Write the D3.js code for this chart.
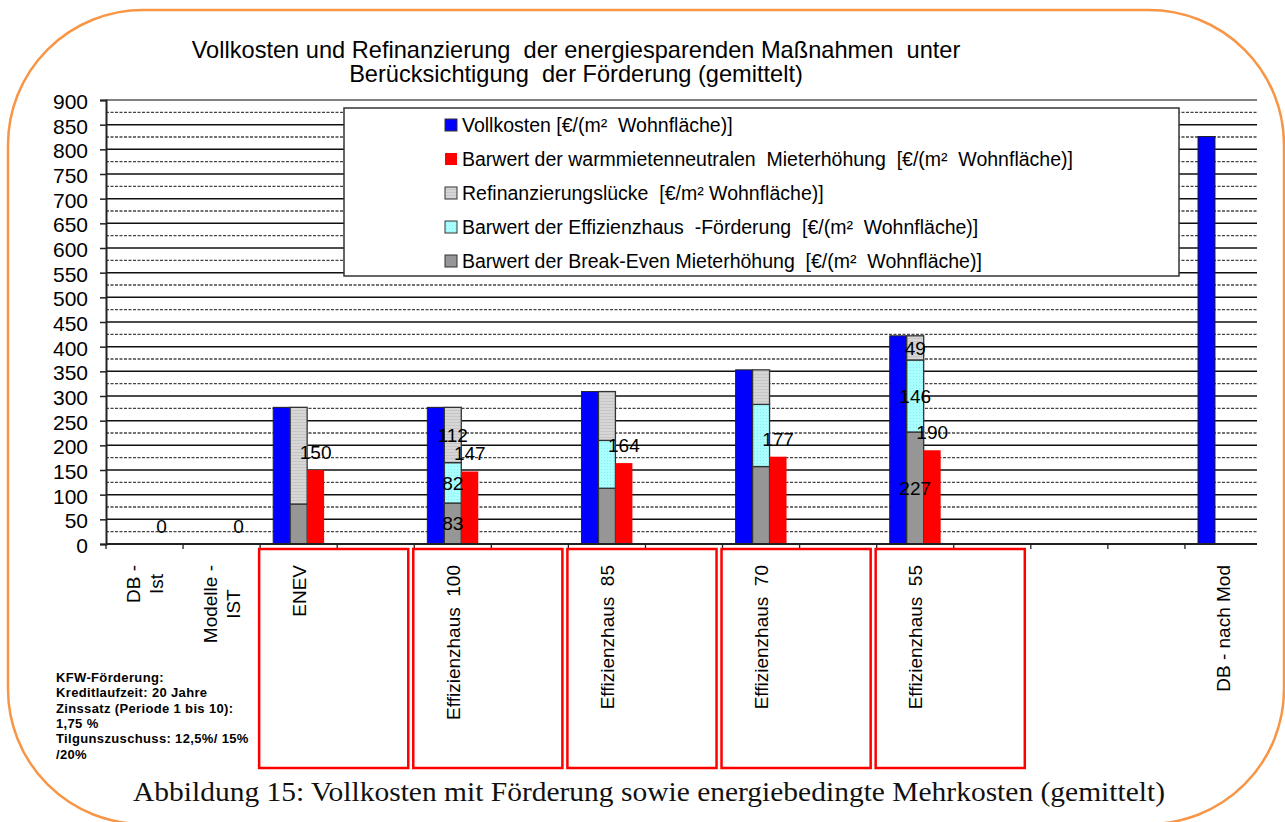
<!DOCTYPE html>
<html><head><meta charset="utf-8">
<script src="https://cdn.jsdelivr.net/npm/d3@7"></script>
<style>
html,body{margin:0;padding:0;background:#fff;}
text{white-space:pre;}
</style></head>
<body>
<svg id="chart" width="1285" height="822"></svg>
<script>
// ---------- data ----------
const xLabels = [["DB -","Ist"],["Modelle -","IST"],["ENEV"],[],["Effizienzhaus  100"],[],["Effizienzhaus  85"],[],["Effizienzhaus  70"],[],["Effizienzhaus  55"],[],[],[],["DB - nach Mod"]];
const vollkosten   = [0, 0, 277, null, 277, null, 309, null, 353, null, 422, null, null, null, 826];
const warmNeutral  = [0, 0, 150, null, 147, null, 164, null, 177, null, 190, null, null, null, null];
const breakEven    = [null, null, 81, null, 83, null, 113, null, 157, null, 227, null, null, null, null];
const foerderung   = [null, null, 0, null, 82, null, 97, null, 126, null, 146, null, null, null, null];
const luecke       = [null, null, 196, null, 112, null, 99, null, 70, null, 49, null, null, null, null];
const stackLabelCats = [4, 10];
const boxedCats = [2, 4, 6, 8, 10];
const yTicks = d3.range(0, 901, 50);
const yMinor = d3.range(25, 900, 50);
const legendItems = [
  {key:"voll", text:"Vollkosten [€/(m²  Wohnfläche)]"},
  {key:"warm", text:"Barwert der warmmietenneutralen  Mieterhöhung  [€/(m²  Wohnfläche)]"},
  {key:"luecke", text:"Refinanzierungslücke  [€/m² Wohnfläche)]"},
  {key:"foerd", text:"Barwert der Effizienzhaus  -Förderung  [€/(m²  Wohnfläche)]"},
  {key:"break", text:"Barwert der Break-Even Mieterhöhung  [€/(m²  Wohnfläche)]"}
];
const titleLines = ["Vollkosten und Refinanzierung  der energiesparenden Maßnahmen  unter","Berücksichtigung  der Förderung (gemittelt)"];
const noteLines = ["KFW-Förderung:","Kreditlaufzeit: 20 Jahre","Zinssatz (Periode 1 bis 10):","1,75 %","Tilgunszuschuss: 12,5%/ 15%","/20%"];
const caption = "Abbildung 15: Vollkosten mit Förderung sowie energiebedingte Mehrkosten (gemittelt)";

// ---------- setup ----------
const svg = d3.select("#chart");
const font = "'Liberation Sans', Arial, sans-serif";
const fills = {voll:"#0000FF", warm:"#FF0000", luecke:"url(#pGray)", foerd:"url(#pCyan)", break:"#969696"};

const defs = svg.append("defs");
const pg = defs.append("pattern").attr("id","pGray").attr("width",4).attr("height",3).attr("patternUnits","userSpaceOnUse");
pg.append("rect").attr("width",4).attr("height",3).attr("fill","#D6D6D6");
pg.append("rect").attr("y",2).attr("width",4).attr("height",1).attr("fill","#C6C6C6");
const pc = defs.append("pattern").attr("id","pCyan").attr("width",3).attr("height",3).attr("patternUnits","userSpaceOnUse");
pc.append("rect").attr("width",3).attr("height",3).attr("fill","#A8FFFF");
pc.append("rect").attr("x",1).attr("y",1).attr("width",1).attr("height",1).attr("fill","#8EEAEA");
defs.append("clipPath").attr("id","plotClip").append("rect").attr("x",100).attr("y",90).attr("width",1157).attr("height",470);

// orange frame
svg.append("rect").attr("x",8).attr("y",10).attr("width",1276).attr("height",814)
  .attr("rx",135).attr("ry",135).attr("fill","#fff").attr("stroke","#F79646").attr("stroke-width",2.5);

const x = d3.scaleBand().domain(d3.range(xLabels.length)).range([106, 1262]).paddingInner(0).paddingOuter(0);
const bw = x.bandwidth();
const xs = d3.scaleBand().domain(["voll","stack","warm"]).range([0, bw]).paddingInner(0).paddingOuter(0.77);
const y = d3.scaleLinear().domain([0, 900]).range([544, 100]);

// title
svg.append("g").selectAll("text").data(titleLines).join("text")
  .attr("x", 576).attr("y",(d,i)=>57.5 + i*24.5).attr("text-anchor","middle")
  .attr("font-family",font).attr("font-size",23.6).attr("fill","#000").text(d=>d);

// gridlines
const grid = svg.append("g").attr("clip-path","url(#plotClip)");
grid.selectAll("line.minor").data(yMinor).join("line").attr("class","minor")
  .attr("x1",106).attr("x2",1257).attr("y1",d=>y(d)).attr("y2",d=>y(d))
  .attr("stroke","#444").attr("stroke-width",1.3).attr("stroke-dasharray","3,1.5");
grid.selectAll("line.major").data(yTicks.filter(d=>d>0)).join("line").attr("class","major")
  .attr("x1",106).attr("x2",1257).attr("y1",d=>y(d)).attr("y2",d=>y(d))
  .attr("stroke",d=>d===900?"#808080":"#111").attr("stroke-width",d=>d===900?2:1.5);

// y axis
const yAxis = d3.axisLeft(y).tickValues(yTicks).tickSize(6).tickPadding(12);
const yg = svg.append("g").attr("transform","translate(106,0)").call(yAxis);
yg.select(".domain").attr("stroke","#222").attr("stroke-width",2);
yg.selectAll(".tick line").attr("stroke","#222").attr("stroke-width",1.5);
yg.selectAll(".tick text").attr("font-family",font).attr("font-size",21).attr("fill","#000").attr("dy","0.4em");

// legend
const lg = svg.append("g");
lg.append("rect").attr("x",344).attr("y",108).attr("width",835).attr("height",168)
  .attr("fill","#fff").attr("stroke","#333").attr("stroke-width",1.5);
const li = lg.selectAll("g.item").data(legendItems).join("g").attr("class","item")
  .attr("transform",(d,i)=>`translate(445,${125 + i*34})`);
li.append("rect").attr("x",0).attr("y",-6).attr("width",12).attr("height",12)
  .attr("fill",d=>fills[d.key]).attr("stroke",d=>d.key==="warm"?"none":"#333").attr("stroke-width",1);
li.append("text").attr("x",17).attr("y",0).attr("dy","0.36em")
  .attr("font-family",font).attr("font-size",19.5).attr("fill","#000").text(d=>d.text);

// bars
const bars = svg.append("g");
const idx = d3.range(xLabels.length);
bars.selectAll("rect.voll").data(idx.filter(i=>vollkosten[i]!==null && vollkosten[i]>0)).join("rect")
  .attr("class","voll").attr("x",i=>x(i)+xs("voll")).attr("width",xs.bandwidth())
  .attr("y",i=>y(vollkosten[i])).attr("height",i=>y(0)-y(vollkosten[i]))
  .attr("fill",fills.voll).attr("stroke","#222").attr("stroke-width",1);

const stackKeys = ["break","foerd","luecke"];
const stackRows = idx.filter(i=>breakEven[i]!==null).map(i=>({i, break:breakEven[i], foerd:foerderung[i], luecke:luecke[i]}));
const stacked = d3.stack().keys(stackKeys)(stackRows);
stacked.forEach(layer=>{
  bars.selectAll(null).data(layer.filter(d=>d[1]-d[0]>0)).join("rect")
    .attr("x",d=>x(d.data.i)+xs("stack")).attr("width",xs.bandwidth())
    .attr("y",d=>y(d[1])).attr("height",d=>y(d[0])-y(d[1]))
    .attr("fill",fills[layer.key]).attr("stroke","#333").attr("stroke-width",1.3);
});

bars.selectAll("rect.warm").data(idx.filter(i=>warmNeutral[i]!==null && warmNeutral[i]>0)).join("rect")
  .attr("class","warm").attr("x",i=>x(i)+xs("warm")).attr("width",xs.bandwidth())
  .attr("y",i=>y(warmNeutral[i])).attr("height",i=>y(0)-y(warmNeutral[i]))
  .attr("fill",fills.warm);

// x axis
svg.append("line").attr("x1",106).attr("x2",1257).attr("y1",y(0)).attr("y2",y(0)).attr("stroke","#222").attr("stroke-width",2);
svg.append("g").selectAll("line").data(d3.range(xLabels.length)).join("line")
  .attr("x1",i=>x(i)).attr("x2",i=>x(i)).attr("y1",y(0)).attr("y2",y(0)+5).attr("stroke","#222").attr("stroke-width",1.3);

// data labels
const labelFont = 19;
const lab = svg.append("g").attr("font-family",font).attr("font-size",labelFont).attr("fill","#000").attr("text-anchor","middle");
lab.selectAll("text.w").data(idx.filter(i=>warmNeutral[i]!==null)).join("text")
  .attr("x",i=>x(i)+xs("warm")+xs.bandwidth()/2).attr("y",i=>y(warmNeutral[i])-18).attr("dy","0.36em")
  .text(i=>warmNeutral[i]);
stacked.forEach(layer=>{
  lab.selectAll(null).data(layer.filter(d=>stackLabelCats.includes(d.data.i))).join("text")
    .attr("x",d=>x(d.data.i)+xs("stack")+xs.bandwidth()/2).attr("y",d=>(y(d[0])+y(d[1]))/2).attr("dy","0.36em")
    .text(d=>d[1]-d[0]);
});

// red boxes around category labels
svg.append("g").selectAll("rect").data(boxedCats).join("rect")
  .attr("x",i=>x(i)-1).attr("y",549).attr("width",bw*2-5).attr("height",219)
  .attr("fill","none").attr("stroke","#FF0000").attr("stroke-width",2.5);

// x labels (rotated)
const xl = svg.append("g");
const lineGap = 23;
xLabels.forEach((lines,i)=>{
  if(!lines.length) return;
  const g = xl.append("g");
  const t = g.append("text").attr("font-family",font).attr("font-size",19).attr("fill","#000").attr("text-anchor","middle");
  lines.forEach((ln,k)=>{
    t.append("tspan").attr("x",0).attr("y",(k-(lines.length-1)/2)*lineGap).attr("dy","0.36em").text(ln);
  });
  let maxLen = 0;
  t.selectAll("tspan").each(function(){ maxLen = Math.max(maxLen, this.getComputedTextLength()); });
  g.attr("transform",`translate(${x(i)+bw/2},${565+maxLen/2}) rotate(-90)`);
});

// footnote
svg.append("g").selectAll("text").data(noteLines).join("text")
  .attr("x",56).attr("y",(d,i)=>682+i*15.3)
  .attr("font-family",font).attr("font-size",13).attr("font-weight","bold").attr("letter-spacing",0.35).attr("fill","#000").text(d=>d);

// caption
svg.append("text").attr("x",133).attr("y",801).attr("font-family","'Liberation Serif','Times New Roman',serif")
  .attr("font-size",27.5).attr("fill","#111").attr("textLength",1032).attr("lengthAdjust","spacingAndGlyphs").text(caption);
</script>
</body></html>
